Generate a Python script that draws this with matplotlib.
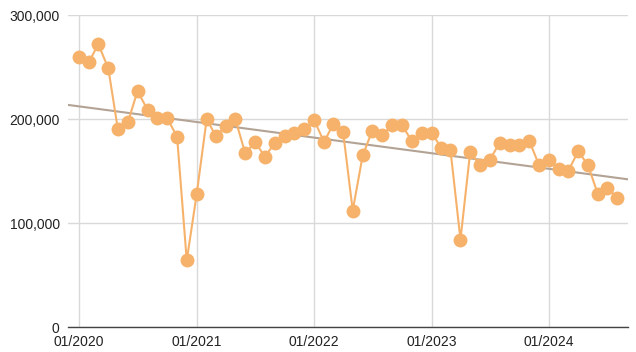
import numpy as np
import pandas as pd
import matplotlib
matplotlib.use("Agg")
from matplotlib import pyplot as plt
import matplotlib.dates as mdates
from matplotlib.ticker import FuncFormatter

# Monthly values, 01/2020 - 08/2024
months = pd.date_range("2020-01-01", "2024-08-01", freq="MS")
values = [260000, 255000, 272000, 249000, 190000, 197000, 227000, 209000, 201000, 201000, 183000, 64000,
          128000, 200000, 184000, 193000, 200000, 167000, 178000, 164000, 177000, 184000, 187000, 190000,
          199000, 178000, 195000, 188000, 112000, 165000, 189000, 185000, 194000, 194000, 179000, 187000,
          187000, 172000, 170000, 84000, 168000, 156000, 161000, 177000, 175000, 175000, 179000, 156000,
          161000, 152000, 150000, 169000, 156000, 128000, 134000, 124000]
yticks = [0, 100000, 200000, 300000]
xtick_dates = pd.to_datetime(["2020-01-01", "2021-01-01", "2022-01-01", "2023-01-01", "2024-01-01"])

plt.rcParams["font.family"] = ["Liberation Sans", "DejaVu Sans"]

fig = plt.figure(figsize=(6.36, 3.52), dpi=100)
ax = fig.add_axes([0.107, 0.071, 0.88, 0.886])

x = mdates.date2num(months.to_pydatetime())
y = np.array(values)

# linear trend line
coef = np.polyfit(x, y, 1)
xlim = (x[0] - 34, x[-1] + 32)
xt = np.array(xlim)
ax.plot(xt, np.polyval(coef, xt), color="#b3a395", linewidth=1.5, zorder=2)

ax.plot(x, y, color="#f6b26b", linewidth=1.5, marker="o", markersize=10,
        markeredgewidth=0, zorder=3)

ax.set_xlim(*xlim)
ax.set_ylim(0, 300000)
ax.set_yticks(yticks)
ax.yaxis.set_major_formatter(FuncFormatter(lambda v, p: "{:,}".format(int(v))))
ax.set_xticks(mdates.date2num(xtick_dates.to_pydatetime()))
ax.xaxis.set_major_formatter(mdates.DateFormatter("%m/%Y"))

ax.grid(True, color="#d9d9d9", linewidth=1)
ax.set_axisbelow(True)
for s in ["top", "right", "left"]:
    ax.spines[s].set_visible(False)
ax.spines["bottom"].set_color("#444444")
ax.spines["bottom"].set_linewidth(1)
ax.spines["bottom"].set_zorder(1)
ax.tick_params(axis="both", length=0, labelsize=10, labelcolor="#222222")
ax.tick_params(axis="y", pad=6)
ax.tick_params(axis="x", pad=6)

fig.savefig("out.png", dpi=100)
